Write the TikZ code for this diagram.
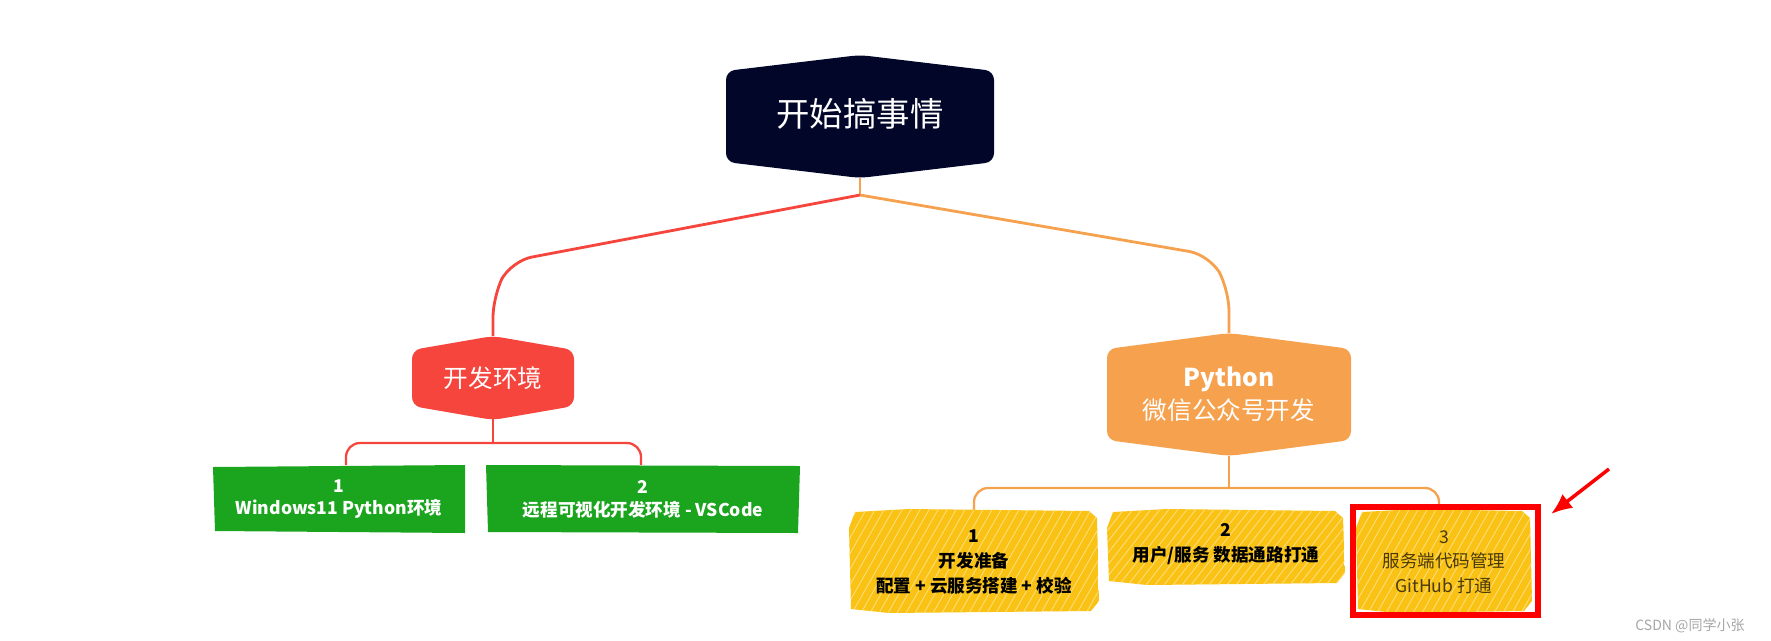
\documentclass[tikz,border=0pt]{standalone}
\usepackage{fontspec}
\setmainfont{Noto Sans CJK SC}
\usetikzlibrary{calc,arrows.meta}
\definecolor{navy}{HTML}{02072A}
\definecolor{redn}{HTML}{F5453D}
\definecolor{orn}{HTML}{F5A14E}
\definecolor{grn}{HTML}{1BA51F}
\definecolor{ylw}{HTML}{F9C214}
\definecolor{ylw2}{HTML}{FCDD7A}
\tikzset{
  lbl/.style={align=center,inner sep=0pt},
  redline/.style={draw=redn,line width=1.6pt,rounded corners=12},
  orline/.style={draw=orn,line width=1.6pt,rounded corners=12},
}
\newcommand{\hexa}[6]{% x1 y1 x2 y2 tip color
  \fill[#6,rounded corners=5] (#1,#2+#5) -- ({(#1+#3)/2},#2) -- (#3,#2+#5) -- (#3,#4-#5) -- ({(#1+#3)/2},#4) -- (#1,#4-#5) -- cycle;}
\newcommand{\yleaf}[4]{%
  \begin{scope}
  \clip (#1+6,#2+4) -- (#1+60,#2+1) -- (#3-10,#2+3) -- (#3-2,#2+10) -- (#3,#4-12) -- (#3-8,#4-2) -- (#1+40,#4) -- (#1+2,#4-4) -- (#1,#2+20) -- cycle;
  \fill[ylw] (#1,#2) rectangle (#3,#4);
  \foreach \k in {0,9,...,300} {\draw[ylw2,line width=0.5pt] (#1+\k-60,#4) -- (#1+\k,#2);}
  \end{scope}}
\begin{document}
\begin{tikzpicture}[x=0.02cm,y=-0.02cm]
\useasboundingbox (0,0) rectangle (1771,640);
% root
\hexa{726}{55}{994}{178}{16}{navy}
\node[lbl,text=white,font=\fontsize{19}{22}\selectfont] (root) at (860,114) {开始搞事情};
\coordinate (rb) at (860,178);
\coordinate (j) at (860,195);
% left hub
\hexa{412}{336}{574}{420}{14}{redn}
\node[lbl,text=white,font=\fontsize{14}{17}\selectfont] (env) at (493,378) {开发环境};
% right hub
\hexa{1107}{333}{1351}{456}{16}{orn}
\node[lbl,text=white,font=\fontsize{14}{19}\selectfont] (py) at (1229,394) {\textbf{Python}\\微信公众号开发};
% connectors root
\draw[orn,line width=1.6pt] (rb) -- (j);
\draw[redline] (j) -- (511,261) -- (493,296) -- (493,336);
\draw[orline] (j) -- (1210,255) -- (1229,290) -- (1229,333);
% left leaves
\fill[grn] (213,467) -- (465,465) -- (465,533) -- (215,531) -- cycle;
\fill[grn] (486,465) -- (800,466) -- (798,533) -- (488,532) -- cycle;
\node[lbl,text=white,font=\bfseries\fontsize{10}{13}\selectfont] (g1) at (339,499) {1\\Windows11 Python环境};
\node[lbl,text=white,font=\bfseries\fontsize{10}{13}\selectfont] (g2) at (643,499) {2\\远程可视化开发环境 - VSCode};
\draw[redline,line width=1.3pt] (env.south) ++(0,20) -- (493,443);
\draw[redline,line width=1.3pt,rounded corners=8] (346,465) -- (346,443) -- (641,443) -- (641,465);
% right leaves
\draw[orline,line width=1.3pt] (1229,456) -- (1229,488);
\draw[orline,line width=1.3pt,rounded corners=8] (974,510) -- (974,488) -- (1439,488) -- (1439,510);
\yleaf{849}{508}{1099}{613}
\yleaf{1107}{508}{1345}{585}
\yleaf{1356}{508}{1532}{613}
\node[lbl,font=\bfseries\fontsize{10}{14}\selectfont] (y1) at (974,562) {1\\开发准备\\配置 + 云服务搭建 + 校验};
\node[lbl,font=\bfseries\fontsize{10}{14}\selectfont] (y2) at (1226,544) {2\\用户/服务 数据通路打通};
\node[lbl,text=black!70!ylw,font=\fontsize{10}{14}\selectfont] (y3) at (1444,562) {3\\服务端代码管理\\GitHub 打通};
\draw[red,line width=3.5pt] (1353,507) rectangle (1538,615);
\coordinate (as) at (1609,469);
\coordinate (ae) at (1551,514);
\draw[red,line width=2pt,-{Latex[length=12pt,width=10pt]}] (as) -- (ae);
\node[lbl,text=black!35,font=\fontsize{8}{10}\selectfont] (wm) at (1690,626) {CSDN @同学小张};
\end{tikzpicture}
\end{document}
